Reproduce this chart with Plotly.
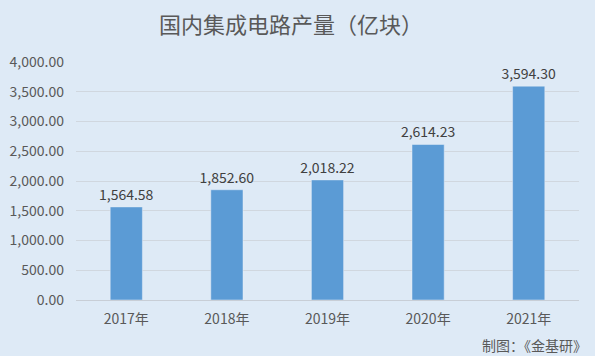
import plotly.graph_objects as go

categories = ["2017年", "2018年", "2019年", "2020年", "2021年"]
values = [1564.58, 1852.60, 2018.22, 2614.23, 3594.30]
tick_vals = [0, 500, 1000, 1500, 2000, 2500, 3000, 3500, 4000]
tick_text = ["{:,.2f}".format(v) for v in tick_vals]
labels = ["{:,.2f}".format(v) for v in values]

BG = "#DEEAF6"
TXT = "#595959"
FONT = "Noto Sans CJK SC, Microsoft YaHei, sans-serif"

fig = go.Figure(go.Bar(
    x=categories, y=values, marker_color="#5B9BD5",
    text=labels, textposition="outside", cliponaxis=False,
    constraintext="none",
    textfont=dict(size=14, color="#404040", family=FONT),
))
fig.update_layout(
    width=595, height=356,
    margin=dict(l=76, r=16, t=62, b=56),
    paper_bgcolor=BG, plot_bgcolor=BG,
    bargap=0.68,
    showlegend=False,
    title=dict(text="国内集成电路产量（亿块）", x=291/595, xanchor="center",
               y=1 - 25/356, yanchor="middle",
               font=dict(size=22, color=TXT, family=FONT)),
    font=dict(family=FONT, color=TXT, size=14),
)
fig.update_yaxes(range=[0, 4000], tickvals=tick_vals, ticktext=tick_text,
                 showgrid=True, gridcolor="#D0D7DF", gridwidth=1,
                 zeroline=True, zerolinecolor="#C8CED6", zerolinewidth=1,
                 showline=False, ticks="", ticklen=0, ticklabelstandoff=11,
                 tickfont=dict(size=14, color=TXT), automargin=False)
fig.update_xaxes(showline=False, ticks="", tickfont=dict(size=14, color=TXT),
                 ticklabelstandoff=9, automargin=False)
fig.add_annotation(text="制图：《金基研》", xref="paper", yref="paper",
                   x=1 + 10/503, y=-45/238, xanchor="right", yanchor="middle",
                   showarrow=False, font=dict(size=14, color=TXT, family=FONT))
fig.write_html("out.html")
